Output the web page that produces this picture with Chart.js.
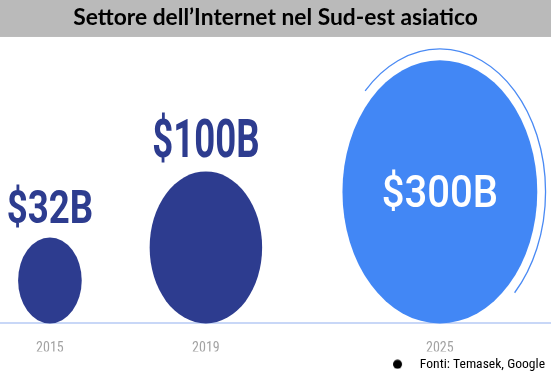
<!DOCTYPE html>
<html><head><meta charset="utf-8">
<script src="https://cdn.jsdelivr.net/npm/chart.js@4.4.1/dist/chart.umd.min.js"></script>
<style>html,body{margin:0;padding:0;background:#fff}#wrap{width:551px;height:376px;position:relative}</style>
</head><body><div id="wrap"><canvas id="c" width="551" height="376"></canvas></div>
<script>
// ---- data ----
const years = [2015, 2019, 2025];
const values = [32, 100, 300];                 // miliardi di USD
const valueLabels = ['$32B', '$100B', '$300B'];
const tickLabels = ['2015', '2019', '2025'];
const titleText = 'Settore dell\u2019Internet nel Sud-est asiatico';
const sourceText = 'Fonti: Temasek, Google';

// ---- style ----
const style = {
  band: '#bababa',
  fill: ['#2d3c8f', '#2d3c8f', '#4287f5'],
  labelColor: ['#2d3c8f', '#2d3c8f', '#ffffff'],
  labelInside: [false, false, true],
  labelSize: [47, 53, 44],
  labelWeight: ['700', '700', '500'],
  labelSquash: [0.78, 0.69, 0.91],
  labelGap: 14.5,
  squash: 0.74,
  k: 7.6,
  ring: [false, false, true],
  ringScale: 1.085,
  ringColor: '#4a8af4'
};

const narrow = "'Liberation Sans Narrow', 'Roboto Condensed', 'DejaVu Sans Condensed', sans-serif";

const dot = document.createElement('canvas');
dot.width = 20; dot.height = 10;
(function(){ const c = dot.getContext('2d'); c.fillStyle = '#000'; c.beginPath(); c.arc(4.5, 5, 4.5, 0, Math.PI*2); c.fill(); })();

const ellipsePlugin = {
  id: 'ellipses',
  beforeDraw(chart) {
    const {ctx, width, height} = chart;
    ctx.save();
    ctx.fillStyle = '#ffffff'; ctx.fillRect(0, 0, width, height);
    ctx.fillStyle = style.band; ctx.fillRect(0, 0, width, chart.titleBlock.bottom);
    ctx.restore();
  },
  afterDatasetsDraw(chart) {
    const ctx = chart.ctx;
    const meta = chart.getDatasetMeta(0);
    meta.data.forEach((el, i) => {
      const R = el.options.radius;
      const rx = R * style.squash;
      const cx = el.x, cy = el.y - R;
      ctx.save();
      ctx.beginPath();
      ctx.ellipse(cx, cy, rx, R, 0, 0, Math.PI * 2);
      ctx.fillStyle = style.fill[i];
      ctx.fill();
      if (style.ring[i]) {
        ctx.beginPath();
        ctx.ellipse(cx, cy, rx * style.ringScale, R * style.ringScale, 0, -Math.PI * 0.75, Math.PI * 0.25);
        ctx.strokeStyle = style.ringColor;
        ctx.lineWidth = 1.3;
        ctx.stroke();
      }
      const fs = style.labelSize[i];
      ctx.font = style.labelWeight[i] + ' ' + fs + 'px Roboto, sans-serif';
      ctx.fillStyle = style.labelColor[i];
      ctx.textAlign = 'center';
      ctx.textBaseline = 'alphabetic';
      const cap = fs * 0.711;
      const ty = style.labelInside[i] ? cy + cap / 2 : cy - R - style.labelGap;
      ctx.translate(cx, ty);
      ctx.scale(style.labelSquash[i], 1);
      ctx.fillText(valueLabels[i], 0, 0);
      ctx.restore();
    });
  }
};

new Chart(document.getElementById('c'), {
  type: 'bubble',
  data: {
    datasets: [{
      label: sourceText,
      data: years.map((y, i) => ({x: y, y: 0, r: style.k * Math.sqrt(values[i])})),
      backgroundColor: 'rgba(0,0,0,0)',
      borderColor: 'rgba(0,0,0,0)',
      borderWidth: 0,
      hoverRadius: 0
    }]
  },
  plugins: [ellipsePlugin],
  options: {
    responsive: false,
    animation: false,
    events: [],
    layout: {autoPadding: false, padding: {left: 0, right: 0, top: 0, bottom: -5}},
    scales: {
      x: {
        type: 'linear',
        min: 2013.72,
        max: 2027.85,
        afterBuildTicks: (s) => { s.ticks = years.map(v => ({value: v})); },
        afterFit: (s) => { s.height = 28; },
        grid: {display: false, drawTicks: false},
        border: {display: true, color: '#c8d7f7', width: 2},
        ticks: {
          padding: 16.6,
          color: '#a3a3a3',
          font: {family: narrow, size: 14},
          autoSkip: false,
          maxRotation: 0,
          callback: (v) => { const i = years.indexOf(v); return i >= 0 ? tickLabels[i] : ''; }
        }
      },
      y: {display: false, min: 0, max: 10}
    },
    plugins: {
      title: {
        display: true,
        text: titleText,
        color: '#000000',
        font: {family: "Lato, 'Open Sans', sans-serif", size: 22.8, weight: 'bold', lineHeight: 1.2},
        padding: {top: 4, bottom: 5.6}
      },
      legend: {
        display: true,
        position: 'bottom',
        align: 'end',
        onClick: null,
        labels: {
          usePointStyle: true,
          pointStyleWidth: 20,
          boxHeight: 10,
          padding: 6,
          color: '#1b2550',
          font: {family: narrow, size: 13.6},
          generateLabels: () => [{
            text: sourceText, fillStyle: '#000', strokeStyle: '#000', lineWidth: 0,
            pointStyle: dot, hidden: false, datasetIndex: 0
          }]
        }
      },
      tooltip: {enabled: false}
    }
  }
});
</script>
</body></html>
